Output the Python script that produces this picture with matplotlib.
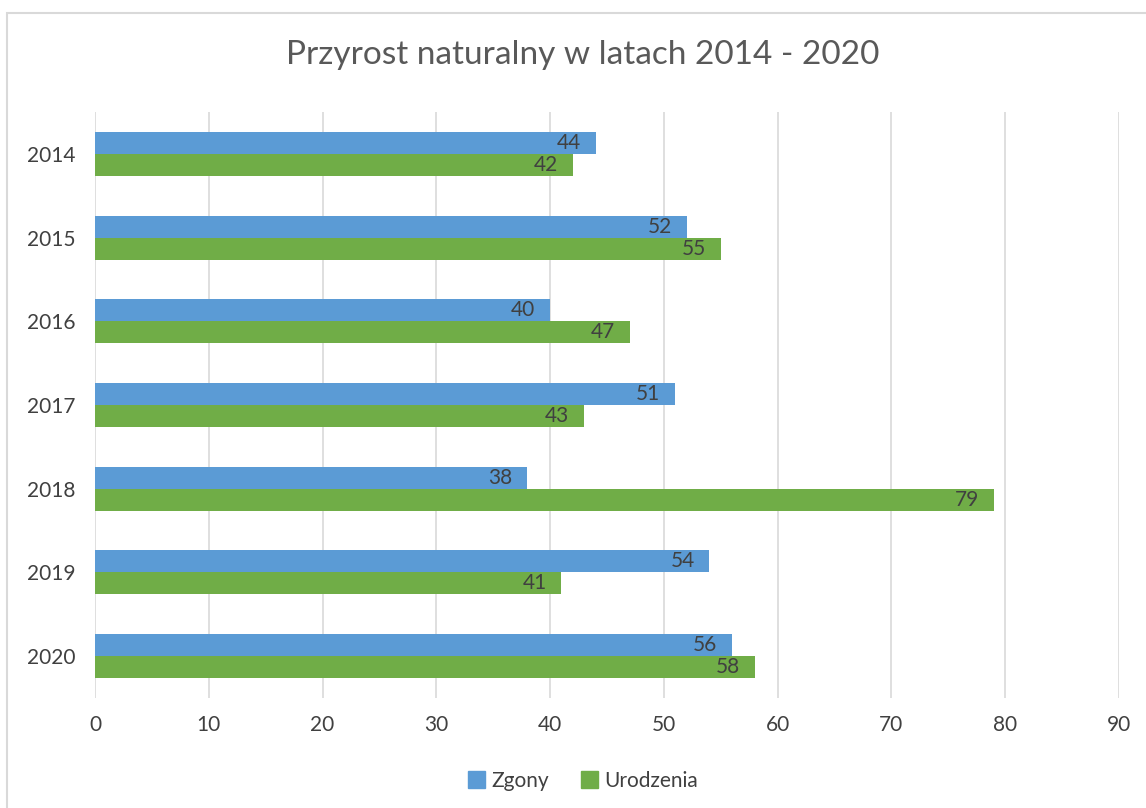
import matplotlib
matplotlib.use('Agg')
import matplotlib.pyplot as plt
import matplotlib.patches as mpatches
import numpy as np

plt.rcParams['font.family'] = ['Lato', 'DejaVu Sans']

years = ['2014', '2015', '2016', '2017', '2018', '2019', '2020']
zgony = [44, 52, 40, 51, 38, 54, 56]
urodzenia = [42, 55, 47, 43, 79, 41, 58]

blue = '#5b9bd5'
green = '#70ad47'
txt = '#404040'

fig = plt.figure(figsize=(11.46, 8.08), dpi=100)
# ramka wykresu (wychodzi poza prawy i dolny brzeg)
fig.patches.append(mpatches.Rectangle((7/1146, -0.1), 1.2, (808-13)/808 + 0.1,
                                      transform=fig.transFigure, fill=False,
                                      edgecolor='#d9d9d9', linewidth=1.5))
ax = fig.add_axes([95/1146, 110/808, (1119-95)/1146, (698-112)/808])

y = np.arange(len(years))
h = 0.2625
ax.barh(y - h/2, zgony, height=h, color=blue, label='Zgony', zorder=2)
ax.barh(y + h/2, urodzenia, height=h, color=green, label='Urodzenia', zorder=2)

for i in range(len(years)):
    ax.text(zgony[i] - 1.3, y[i] - h/2, str(zgony[i]), ha='right', va='center',
            fontsize=15, color=txt, zorder=3)
    ax.text(urodzenia[i] - 1.3, y[i] + h/2, str(urodzenia[i]), ha='right', va='center',
            fontsize=15, color=txt, zorder=3)

ax.set_xlim(0, 90)
ax.set_ylim(6.5, -0.5)
ax.set_xticks(range(0, 91, 10))
ax.set_yticks(y)
ax.set_yticklabels(years)
ax.tick_params(axis='both', length=0, labelsize=15, labelcolor=txt)
ax.tick_params(axis='x', pad=12)
ax.tick_params(axis='y', pad=14)
ax.grid(axis='x', color='#d9d9d9', linewidth=1.2, zorder=0)
for s in ax.spines.values():
    s.set_visible(False)

fig.text(583/1146, 1 - 55/808, 'Przyrost naturalny w latach 2014 - 2020',
         ha='center', va='center', fontsize=24, color='#595959')

handles = [mpatches.Patch(color=blue, label='Zgony'),
           mpatches.Patch(color=green, label='Urodzenia')]
fig.legend(handles=handles, loc='center', bbox_to_anchor=(583/1146, 1 - 781/808),
           ncol=2, frameon=False, fontsize=15, handlelength=0.85, handleheight=0.85,
           handletextpad=0.3, columnspacing=1.5, labelcolor=txt)

fig.savefig('out.png', dpi=100)
